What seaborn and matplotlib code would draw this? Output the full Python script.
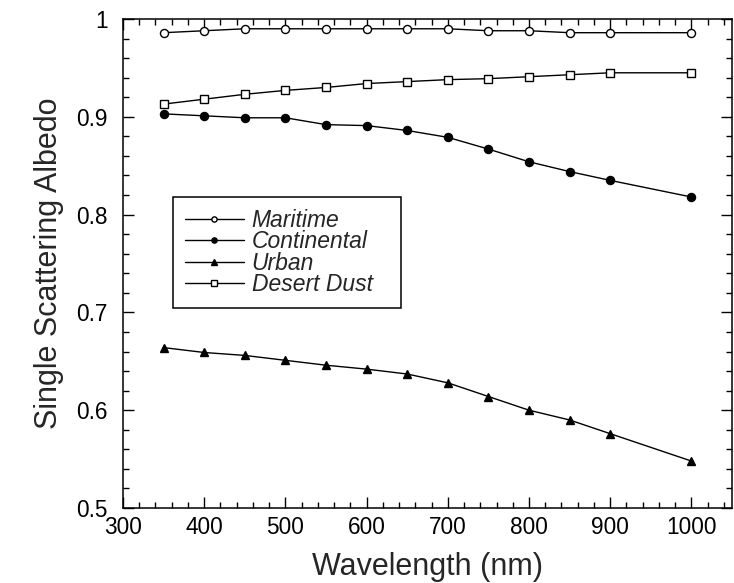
import matplotlib
matplotlib.use("Agg")
import matplotlib.pyplot as plt
from matplotlib.ticker import MultipleLocator
import seaborn as sns
import pandas as pd

# Wavelengths (nm) and single scattering albedo for each aerosol type
wavelength = [350, 400, 450, 500, 550, 600, 650, 700, 750, 800, 850, 900, 1000]
maritime = [0.986, 0.988, 0.990, 0.990, 0.990, 0.990, 0.990, 0.990, 0.988, 0.988, 0.986, 0.986, 0.986]
continental = [0.903, 0.901, 0.899, 0.899, 0.892, 0.891, 0.886, 0.879, 0.867, 0.854, 0.844, 0.835, 0.818]
urban = [0.664, 0.659, 0.656, 0.651, 0.646, 0.642, 0.637, 0.628, 0.614, 0.600, 0.590, 0.576, 0.548]
desert_dust = [0.913, 0.918, 0.923, 0.927, 0.930, 0.934, 0.936, 0.938, 0.939, 0.941, 0.943, 0.945, 0.945]

x_ticks = [300, 400, 500, 600, 700, 800, 900, 1000]
y_ticks = [0.5, 0.6, 0.7, 0.8, 0.9, 1.0]
y_tick_labels = ["0.5", "0.6", "0.7", "0.8", "0.9", "1"]

series = [
    ("Maritime", maritime, "o", "white"),
    ("Continental", continental, "o", "black"),
    ("Urban", urban, "^", "black"),
    ("Desert Dust", desert_dust, "s", "white"),
]

sns.set_style("ticks")
plt.rcParams["font.family"] = ["Liberation Sans", "DejaVu Sans"]

fig = plt.figure(figsize=(7.34, 5.83), dpi=100)
ax = fig.add_axes([123 / 734, 1 - 508 / 583, (732 - 123) / 734, (508 - 19) / 583])

for name, values, marker, face in series:
    df = pd.DataFrame({"Wavelength": wavelength, "Albedo": values})
    sns.lineplot(data=df, x="Wavelength", y="Albedo", ax=ax, color="black",
                 linewidth=1.0, marker=marker, markersize=5.8,
                 markerfacecolor=face, markeredgecolor="black",
                 markeredgewidth=1.0, label=name)

ax.set_xlim(300, 1050)
ax.set_ylim(0.5, 1.0)
ax.set_xticks(x_ticks)
ax.set_yticks(y_ticks)
ax.set_yticklabels(y_tick_labels)
ax.xaxis.set_minor_locator(MultipleLocator(20))
ax.yaxis.set_minor_locator(MultipleLocator(0.02))

ax.tick_params(which="both", direction="in", top=True, right=True,
               color="black", width=1.0, labelsize=16.3, labelcolor="black")
ax.tick_params(which="major", length=8)
ax.tick_params(which="minor", length=4.3)
ax.tick_params(axis="x", which="major", pad=6)
ax.tick_params(axis="y", which="major", pad=11)

for spine in ax.spines.values():
    spine.set_visible(True)
    spine.set_color("black")
    spine.set_linewidth(1.1)

ax.set_xlabel("Wavelength (nm)", fontsize=22, labelpad=9)
ax.set_ylabel("Single Scattering Albedo", fontsize=22, labelpad=9)

# Legend box spans a fixed width inside the axes
leg_w = 228 / 609
leg = ax.legend(loc="upper left", bbox_to_anchor=(0.0816, 0.536, leg_w, 0.1),
                mode="expand", borderaxespad=0, frameon=True, fancybox=False,
                framealpha=1, edgecolor="black", markerscale=0.65,
                handlelength=2.6, handletextpad=0.32, labelspacing=-0.07,
                borderpad=0.52, prop={"style": "italic", "size": 16.5})
leg.get_frame().set_linewidth(1.1)

fig.savefig("out.png", dpi=100)
